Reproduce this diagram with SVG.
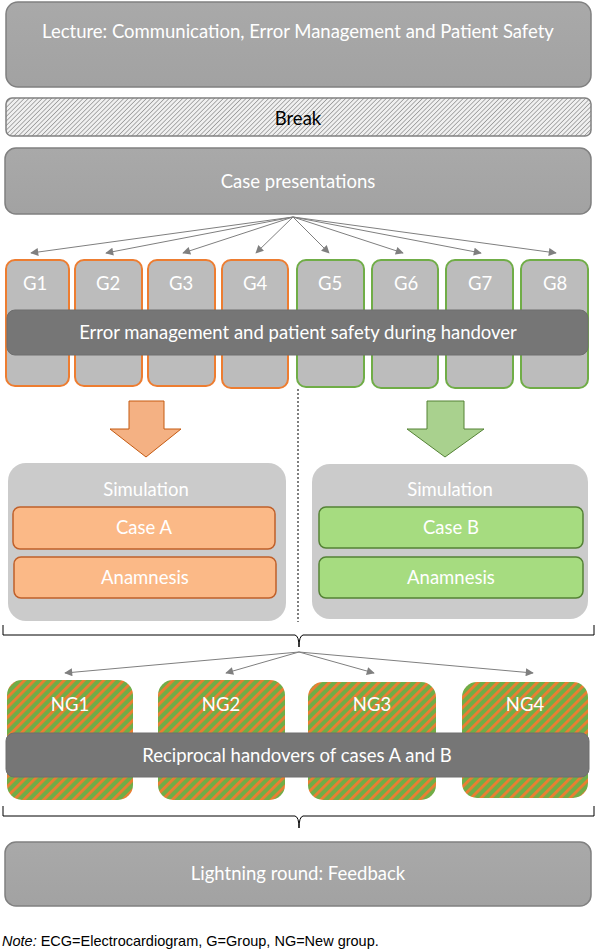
<svg xmlns="http://www.w3.org/2000/svg" width="597" height="951" viewBox="0 0 597 951">
<defs>
<linearGradient id="gGray" x1="0" y1="0" x2="0" y2="1">
<stop offset="0" stop-color="#a9a9a9"/><stop offset="1" stop-color="#a2a2a2"/>
</linearGradient>
<pattern id="hatch" patternUnits="userSpaceOnUse" width="3.2" height="3.2" patternTransform="rotate(45)">
<rect width="3.2" height="3.2" fill="#f0f0f0"/>
<line x1="0" y1="0" x2="0" y2="3.2" stroke="#7f7f7f" stroke-width="1.2"/>
</pattern>
<pattern id="stripes" patternUnits="userSpaceOnUse" width="7" height="7" patternTransform="rotate(45)">
<rect width="7" height="7" fill="#70ad47"/>
<rect width="2.8" height="7" fill="#ed7d31"/>
</pattern>
<marker id="ah" viewBox="0 0 10 10" refX="9" refY="5" markerWidth="10" markerHeight="8" markerUnits="userSpaceOnUse" orient="auto">
<path d="M0,0 L10,5 L0,10 z" fill="#7f7f7f"/>
</marker>
</defs>
<style>
.box{fill:url(#gGray);stroke:#808080;stroke-width:1.5}
.t{font-family:Lato,"Open Sans","Liberation Sans",sans-serif;fill:#ffffff;text-anchor:middle;font-size:18.5px}
.gO{fill:#bcbcbc;stroke:#ed7d31;stroke-width:2}
.gG{fill:#bcbcbc;stroke:#70ad47;stroke-width:2}
.bar{fill:#767676;stroke:#6e6e6e;stroke-width:1}
.sim{fill:#cbcbcb}
.ca{fill:#fbb987;stroke:#c0602a;stroke-width:1.5}
.cb{fill:#a6dc80;stroke:#548235;stroke-width:1.5}
.ng{fill:url(#stripes)}
.conn{stroke:#7f7f7f;stroke-width:1;fill:none;marker-end:url(#ah)}
.brace{stroke:#000;stroke-width:1;fill:none}
</style>

<g id="lecture">
<rect class="box" x="6" y="2" width="585" height="85" rx="12"/>
<text class="t" x="298" y="38">Lecture: Communication, Error Management and Patient Safety</text>
</g>
<g id="break">
<rect x="6" y="98" width="585" height="38" rx="6" fill="url(#hatch)" stroke="#808080" stroke-width="1.5"/>
<text x="298" y="125" font-size="18.5" font-family="Lato,'Open Sans','Liberation Sans',sans-serif" text-anchor="middle" fill="#000">Break</text>
</g>
<g id="case-presentations">
<rect class="box" x="5" y="148" width="586" height="66" rx="11"/>
<text class="t" x="298" y="188">Case presentations</text>
</g>

<g id="connectors">
<line class="conn" x1="293" y1="217" x2="31" y2="253"/>
<line class="conn" x1="293" y1="217" x2="106" y2="253"/>
<line class="conn" x1="293" y1="217" x2="183" y2="253"/>
<line class="conn" x1="293" y1="217" x2="256" y2="253"/>
<line class="conn" x1="293" y1="217" x2="329" y2="253"/>
<line class="conn" x1="293" y1="217" x2="403" y2="253"/>
<line class="conn" x1="293" y1="217" x2="481" y2="253"/>
<line class="conn" x1="293" y1="217" x2="556" y2="253"/>
<line x1="298" y1="389" x2="298" y2="622" stroke="#7f7f7f" stroke-width="2" stroke-dasharray="2,2"/>
<path class="brace" d="M3,625 L3,635 L295,635 Q299,636 299,647 Q299,636 303,635 L594,635 L594,625"/>
<line class="conn" x1="299" y1="652" x2="65" y2="673"/>
<line class="conn" x1="299" y1="652" x2="226" y2="673"/>
<line class="conn" x1="299" y1="652" x2="374" y2="673"/>
<line class="conn" x1="299" y1="652" x2="533" y2="673"/>
<path class="brace" d="M3,806 L3,816 L295,816 Q299,817 299,828 Q299,817 303,816 L594,816 L594,806"/>
</g>

<g id="G1"><rect class="gO" x="6" y="260" width="63" height="126" rx="9"/><text class="t" x="35" y="290">G1</text></g>
<g id="G2"><rect class="gO" x="75" y="260" width="67" height="126" rx="9"/><text class="t" x="108" y="290">G2</text></g>
<g id="G3"><rect class="gO" x="148" y="260" width="67" height="126" rx="9"/><text class="t" x="181" y="290">G3</text></g>
<g id="G4"><rect class="gO" x="222" y="260" width="66" height="128" rx="9"/><text class="t" x="255" y="290">G4</text></g>
<g id="G5"><rect class="gG" x="297" y="260" width="67" height="127" rx="9"/><text class="t" x="330" y="290">G5</text></g>
<g id="G6"><rect class="gG" x="372" y="260" width="66" height="128" rx="9"/><text class="t" x="406" y="290">G6</text></g>
<g id="G7"><rect class="gG" x="446" y="260" width="67" height="128" rx="9"/><text class="t" x="480" y="290">G7</text></g>
<g id="G8"><rect class="gG" x="521" y="260" width="67" height="128" rx="9"/><text class="t" x="555" y="290">G8</text></g>

<g id="error-management">
<rect class="bar" x="7" y="310" width="581" height="45" rx="8"/>
<text class="t" x="298" y="339">Error management and patient safety during handover</text>
</g>

<g id="arrow-orange">
<path d="M129,401 L164,401 L164,429 L181,429 L146,457 L110,429 L129,429 Z" fill="#f4b183" stroke="#c55a11" stroke-width="1"/>
</g>
<g id="arrow-green">
<path d="M427,401 L464,401 L464,429 L484,429 L445,457 L407,429 L427,429 Z" fill="#a9d18e" stroke="#548235" stroke-width="1"/>
</g>

<g id="simulation-a">
<rect class="sim" x="8" y="463" width="278" height="158" rx="18"/>
<text class="t" x="146" y="496">Simulation</text>
</g>
<g id="case-a"><rect class="ca" x="13" y="507" width="262" height="42" rx="7"/><text class="t" x="144" y="534">Case A</text></g>
<g id="anamnesis-a"><rect class="ca" x="14" y="557" width="262" height="41" rx="7"/><text class="t" x="145" y="584">Anamnesis</text></g>

<g id="simulation-b">
<rect class="sim" x="312" y="464" width="276" height="155" rx="18"/>
<text class="t" x="450" y="496">Simulation</text>
</g>
<g id="case-b"><rect class="cb" x="319" y="507" width="264" height="41" rx="7"/><text class="t" x="451" y="534">Case B</text></g>
<g id="anamnesis-b"><rect class="cb" x="319" y="557" width="264" height="41" rx="7"/><text class="t" x="451" y="584">Anamnesis</text></g>

<g id="NG1"><rect class="ng" x="7" y="680" width="126" height="120" rx="15"/><text class="t" x="70" y="711">NG1</text></g>
<g id="NG2"><rect class="ng" x="158" y="680" width="127" height="120" rx="15"/><text class="t" x="221" y="711">NG2</text></g>
<g id="NG3"><rect class="ng" x="308" y="682" width="128" height="118" rx="15"/><text class="t" x="372" y="711">NG3</text></g>
<g id="NG4"><rect class="ng" x="462" y="682" width="126" height="116" rx="15"/><text class="t" x="525" y="711">NG4</text></g>

<g id="reciprocal">
<rect class="bar" x="6" y="733" width="583" height="44" rx="8"/>
<text class="t" x="297" y="762">Reciprocal handovers of cases A and B</text>
</g>

<g id="lightning">
<rect class="box" x="5" y="842" width="586" height="64" rx="11"/>
<text class="t" x="298" y="880">Lightning round: Feedback</text>
</g>

<g id="note">
<text x="2" y="946" font-size="14.5" font-family="'Liberation Sans',Arial,sans-serif" fill="#000"><tspan font-style="italic">Note:</tspan> ECG=Electrocardiogram, G=Group, NG=New group.</text>
</g>
</svg>
